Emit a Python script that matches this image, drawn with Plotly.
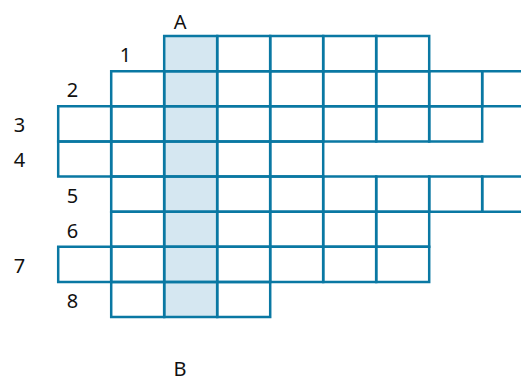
import plotly.graph_objects as go

# crossword rows: number label, first column, number of cells
row_labels = ["1", "2", "3", "4", "5", "6", "7", "8"]
row_start = [2, 1, 0, 0, 1, 1, 0, 1]
row_len = [5, 8, 8, 5, 8, 6, 7, 3]
key_col = 2          # highlighted column running from A to B
key_top = "A"
key_bottom = "B"

line_color = "#0a78a3"
fill_color = "#d5e7f1"
font = dict(family="Noto Sans", size=20, color="#111111")

# page body has an 8px margin, so the figure is made smaller to fit the window
W, H, PAD = 529, 381, 8
CELL_W, CELL_H = 53.0, 35.125
LEFT, TOP = 58.2 - PAD, 36.0 - PAD

fig = go.Figure()
shapes = []

# highlighted column first so the grid lines sit on top
for r in range(len(row_labels)):
    if row_start[r] <= key_col < row_start[r] + row_len[r]:
        shapes.append(dict(type="rect", xref="x", yref="y",
                           x0=key_col, x1=key_col + 1, y0=r, y1=r + 1,
                           fillcolor=fill_color, line=dict(width=0), layer="below"))

for r in range(len(row_labels)):
    for c in range(row_start[r], row_start[r] + row_len[r]):
        shapes.append(dict(type="rect", xref="x", yref="y",
                           x0=c, x1=c + 1, y0=r, y1=r + 1,
                           fillcolor="rgba(0,0,0,0)",
                           line=dict(color=line_color, width=2.5)))

# row numbers, left of each row's first cell
fig.add_trace(go.Scatter(
    x=[s - 0.73 for s in row_start],
    y=[r + 0.6 for r in range(len(row_labels))],
    mode="text", text=row_labels, textfont=font, cliponaxis=False,
    hoverinfo="skip", showlegend=False,
))

# column letters above and below
fig.add_trace(go.Scatter(
    x=[key_col + 0.3, key_col + 0.3],
    y=[-0.33, len(row_labels) + 1.55],
    mode="text", text=[key_top, key_bottom], textfont=font, cliponaxis=False,
    hoverinfo="skip", showlegend=False,
))

fig.update_layout(
    width=W - PAD, height=H - PAD,
    margin=dict(l=0, r=0, t=0, b=0),
    paper_bgcolor="white", plot_bgcolor="white",
    shapes=shapes,
    showlegend=False,
)
fig.update_xaxes(range=[-LEFT / CELL_W, (W - PAD - LEFT) / CELL_W], visible=False, fixedrange=True)
fig.update_yaxes(range=[(H - PAD - TOP) / CELL_H, -TOP / CELL_H], visible=False, fixedrange=True)

fig.write_html("out.html", config={"displayModeBar": False})
